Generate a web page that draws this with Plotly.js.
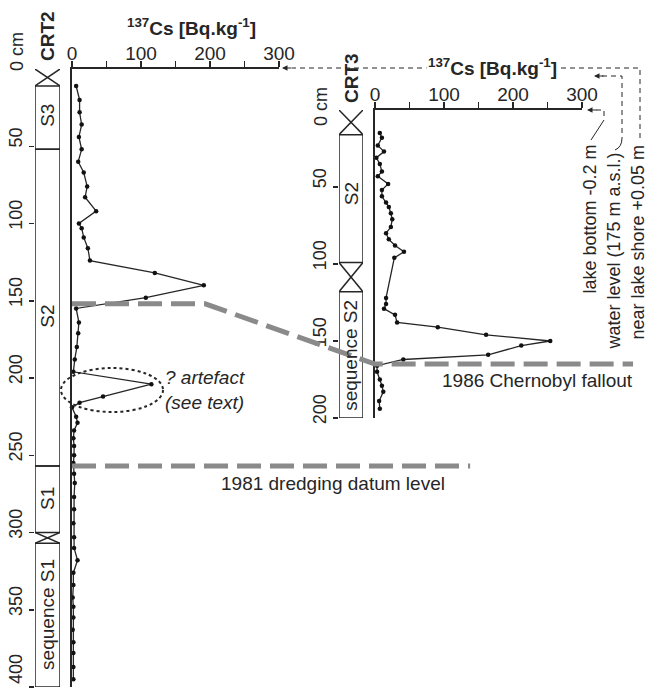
<!DOCTYPE html>
<html><head><meta charset="utf-8">
<script src="https://cdn.plot.ly/plotly-3.0.1.min.js"></script>
<style>html,body{margin:0;padding:0;background:#fff;}#chart{width:646px;height:691px;}</style>
</head><body><div id="chart"></div>
<script>
// ---- data ----
const crt2Depth = [11,20,28,36,44,52,60,67,76,83, 92,100,103,109,116,124,132,140,148,155, 164,171,180,188,196,204,212,216,219,225, 229,234,239,244,250,255,262,268,277,285, 294,303,310,318,326,334,342,348,355,363, 371,378,387,395];
const crt2Cs    = [6,11,11,14,10,14,9,17,22,19, 35,10,14,17,23,26,120,191,107,6, 10,9,7,4,2,115,45,11,0,6, 8,3,2,3,3,2,3,4,3,3, 2,3,3,8,2,2,1,2,2,1, 2,2,2,2];
const crt3Depth = [15,18,23,27,31,35,40,43,48,52, 56,60,63,67,71,76,80,84,88,92, 96,122,126,129,133,138,141,146,150,153, 159,162,166,170,175,179,183,189,194];
const crt3Cs    = [7,10,4,13,2,7,10,4,19,10, 10,16,20,23,25,23,16,20,29,42, 28,16,16,13,29,32,91,161,254,212, 164,41,3,3,7,10,12,6,7];

const csMajorStep = 100, csMinorStep = 50;
const crt2DepthTicks = [50,100,150,200,250,300,350,400];
const crt2DepthTickText = ['50','100','150','200','250','300','350',''];
const crt2BottomLabel = '400';
const crt3DepthTicks = [50,100,150,200];

// lithology units (depth cm)
const crt2UnitTop = [11,52,257,307];
const crt2UnitBottom = [52,257,300,400];
const crt2UnitLabel = ['S3','S2','S1','sequence S1'];
const crt2UnitLabelDepth = [30,160,278,353];
const crt2GapTop = [0,300];
const crt2GapBottom = [11,307];
const crt3UnitTop = [16,118];
const crt3UnitBottom = [99,200];
const crt3UnitLabel = ['S2','sequence S2'];
const crt3UnitLabelDepth = [54,159];
const crt3GapTop = [0,99];
const crt3GapBottom = [16,118];

// correlation horizons
const chernobylDepthCRT2 = 152, chernobylKinkCs = 193, chernobylDepthCRT3 = 165, chernobylEndCs = 374;
const dredgingDepthCRT2 = 257, dredgingEndCs = 577;

// ---- layout geometry ----
const W = 646, H = 691;
const X = p => p / W;
const Y = p => 1 - p / H;
const FONT = 'Liberation Sans, Arial, sans-serif';
const INK = '#262626';

const ax1 = {domain:[X(72), X(279)], range:[0,300]};
const ay1 = {domain:[Y(687), Y(69)], range:[400,0]};
const ax2 = {domain:[X(375), X(582)], range:[0,300]};
const ay2 = {domain:[Y(418), Y(110)], range:[200,0]};
const lin = (a, v) => a.domain[0] + (v - a.range[0]) / (a.range[1] - a.range[0]) * (a.domain[1] - a.domain[0]);

const col2 = {domain:[X(35), X(60)], range:[0,1]};
const col3 = {domain:[X(339), X(363)], range:[0,1]};

const traces = [
  {x: crt2Cs, y: crt2Depth, xaxis:'x', yaxis:'y', type:'scatter', mode:'lines+markers', cliponaxis:false,
   line:{color:INK, width:1.3}, marker:{color:'#111', size:4.5}},
  {x: crt3Cs, y: crt3Depth, xaxis:'x2', yaxis:'y2', type:'scatter', mode:'lines+markers', cliponaxis:false,
   line:{color:INK, width:1.3}, marker:{color:'#111', size:4.5}},
  // empty traces so the lithology-column subplots exist
  {x:[], y:[], xaxis:'x3', yaxis:'y3', type:'scatter', mode:'markers', hoverinfo:'skip'},
  {x:[], y:[], xaxis:'x4', yaxis:'y4', type:'scatter', mode:'markers', hoverinfo:'skip'}
];

const csAxis = (a, anchor) => ({
  domain:a.domain, range:a.range, side:'top', anchor:anchor,
  tickmode:'linear', tick0:0, dtick:csMajorStep,
  ticks:'outside', ticklen:6, tickwidth:1.5, tickcolor:INK, ticklabelstandoff:-6,
  minor:{tick0:0, dtick:csMinorStep, ticks:'outside', ticklen:6, tickwidth:1.5, tickcolor:INK, showgrid:false},
  showline:true, linewidth:1.6, linecolor:INK, showgrid:false, zeroline:false,
  tickfont:{family:FONT, size:19, color:INK}, fixedrange:true
});
const plotYAxis = (a, anchor) => ({
  domain:a.domain, range:a.range, anchor:anchor, showline:true, linewidth:1.6, linecolor:INK,
  ticks:'', showticklabels:false, showgrid:false, zeroline:false, fixedrange:true
});
const colXAxis = (c, anchor) => ({domain:c.domain, range:c.range, anchor:anchor, visible:false, fixedrange:true});
const depthAxis = (a, anchor, vals, text) => ({
  domain:a.domain, range:a.range, anchor:anchor, side:'left',
  tickmode:'array', tickvals:vals, ticktext:text, ticks:'outside', ticklen:5, tickwidth:1.5, tickcolor:INK,
  tickangle:-90, ticklabelshift:6, showline:false, showgrid:false, zeroline:false,
  tickfont:{family:FONT, size:18, color:INK}, fixedrange:true
});

const shapes = [];
const annotations = [];
const lineStyle = {color:INK, width:1.5};

function addColumn(xref, yref, tops, bottoms, gapTops, gapBottoms, labels, labelDepths) {
  tops.forEach((t, i) => {
    shapes.push({type:'rect', xref:xref, yref:yref, x0:0, x1:1, y0:t, y1:bottoms[i], line:lineStyle, fillcolor:'rgba(0,0,0,0)'});
    annotations.push({xref:xref, yref:yref, x:0.5, y:labelDepths[i], text:labels[i], showarrow:false,
      textangle:-90, font:{family:FONT, size:19, color:INK}, xanchor:'center', yanchor:'middle'});
  });
  gapTops.forEach((t, i) => {
    shapes.push({type:'line', xref:xref, yref:yref, x0:0, x1:1, y0:t, y1:gapBottoms[i], line:lineStyle});
    shapes.push({type:'line', xref:xref, yref:yref, x0:1, x1:0, y0:t, y1:gapBottoms[i], line:lineStyle});
  });
}
addColumn('x3', 'y3', crt2UnitTop, crt2UnitBottom, crt2GapTop, crt2GapBottom, crt2UnitLabel, crt2UnitLabelDepth);
addColumn('x4', 'y4', crt3UnitTop, crt3UnitBottom, crt3GapTop, crt3GapBottom, crt3UnitLabel, crt3UnitLabelDepth);

// correlation lines (thick grey dashed)
const grey = {color:'#8a8a8a', width:5, dash:'24px,9px'};
shapes.push({type:'path', xref:'paper', yref:'paper', line:grey,
  path:`M${lin(ax1,0)},${lin(ay1,chernobylDepthCRT2)} L${lin(ax1,chernobylKinkCs)},${lin(ay1,chernobylDepthCRT2)} L${lin(ax2,0)},${lin(ay2,chernobylDepthCRT3)} L${lin(ax2,chernobylEndCs)},${lin(ay2,chernobylDepthCRT3)}`});
shapes.push({type:'path', xref:'paper', yref:'paper', line:grey,
  path:`M${lin(ax1,0)},${lin(ay1,dredgingDepthCRT2)} L${lin(ax1,dredgingEndCs)},${lin(ay1,dredgingDepthCRT2)}`});

// artefact ellipse
shapes.push({type:'circle', xref:'paper', yref:'paper', x0:X(61), x1:X(163), y0:Y(412), y1:Y(368),
  line:{color:INK, width:2, dash:'dot'}});

// thin dashed leader lines for reference levels
const P = (x, y) => `${X(x)},${Y(y)}`;
const thin = {color:INK, width:1, dash:'5px,4px'};
const thinSolid = {color:INK, width:1};
shapes.push({type:'path', xref:'paper', yref:'paper', line:thin, path:`M${P(640,138)} L${P(640,68)} L${P(292,68)}`});
shapes.push({type:'path', xref:'paper', yref:'paper', line:thin, path:`M${P(602,76)} L${P(622,76)} L${P(622,138)}`});
shapes.push({type:'path', xref:'paper', yref:'paper', line:thinSolid, path:`M${P(622,138)} Q${P(622,147)} ${P(615,150)}`});
shapes.push({type:'path', xref:'paper', yref:'paper', line:thin, path:`M${P(596,110)} L${P(604,110)} L${P(604,120)}`});
shapes.push({type:'path', xref:'paper', yref:'paper', line:thinSolid, path:`M${P(604,120)} L${P(591,140)}`});

const arrow = (x, y) => ({xref:'paper', yref:'paper', x:X(x), y:Y(y), ax:11, ay:0, text:'', showarrow:true,
  arrowhead:2, arrowsize:1.1, arrowwidth:1, arrowcolor:INK});
annotations.push(arrow(282, 68), arrow(594, 76), arrow(587, 110));

const txt = (x, y, text, opts={}) => Object.assign({xref:'paper', yref:'paper', x:X(x), y:Y(y), text:text, showarrow:false,
  font:{family:FONT, size:19, color:INK}, xanchor:'center', yanchor:'middle'}, opts);

annotations.push(
  txt(191, 27, '<b><sup>137</sup>Cs [Bq.kg<sup>-1</sup>]</b>'),
  txt(492, 67, '<b><sup>137</sup>Cs [Bq.kg<sup>-1</sup>]</b>', {bgcolor:'#fff', borderpad:1}),
  txt(47, 36, '<b>CRT2</b>', {textangle:-90}),
  txt(351, 78, '<b>CRT3</b>', {textangle:-90}),
  txt(17, 52, '0 cm', {textangle:-90, font:{family:FONT, size:18, color:INK}}),
  txt(321, 107, '0 cm', {textangle:-90, font:{family:FONT, size:18, color:INK}}),
  txt(16, 669, crt2BottomLabel, {textangle:-90, font:{family:FONT, size:18, color:INK}}),
  txt(333, 483, '1981 dredging datum level'),
  txt(537, 380, '1986 Chernobyl fallout'),
  txt(163, 390, '<i>? artefact</i><br><i>(see text)</i>', {xanchor:'left', align:'left'}),
  txt(589, 143, 'lake bottom -0.2 m', {textangle:-90, yanchor:'top', font:{family:FONT, size:18, color:INK}}),
  txt(613, 151, 'water level (175 m a.s.l.)', {textangle:-90, yanchor:'top', font:{family:FONT, size:18, color:INK}}),
  txt(637, 143, 'near lake shore +0.05 m', {textangle:-90, yanchor:'top', font:{family:FONT, size:18, color:INK}})
);

const layout = {
  width:W, height:H, margin:{l:0, r:0, t:0, b:0, pad:0},
  paper_bgcolor:'#fff', plot_bgcolor:'rgba(0,0,0,0)', showlegend:false,
  xaxis: csAxis(ax1, 'y'),
  yaxis: plotYAxis(ay1, 'x'),
  xaxis2: csAxis(ax2, 'y2'),
  yaxis2: plotYAxis(ay2, 'x2'),
  xaxis3: colXAxis(col2, 'y3'),
  yaxis3: depthAxis(ay1, 'x3', crt2DepthTicks, crt2DepthTickText),
  xaxis4: colXAxis(col3, 'y4'),
  yaxis4: depthAxis(ay2, 'x4', crt3DepthTicks, crt3DepthTicks.map(String)),
  shapes:shapes, annotations:annotations
};

Plotly.newPlot('chart', traces, layout, {staticPlot:true, displayModeBar:false});
</script></body></html>
